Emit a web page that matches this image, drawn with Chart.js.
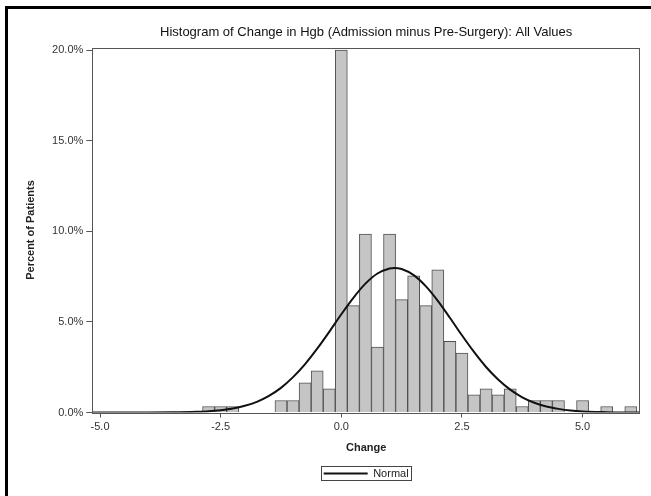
<!DOCTYPE html>
<html>
<head>
<meta charset="utf-8">
<script src="https://cdn.jsdelivr.net/npm/chart.js@4.4.0/dist/chart.umd.min.js"></script>
<style>
    html, body { margin: 0; padding: 0; background: #fff; }
    #wrap { width: 651px; height: 496px; }
</style>
</head>
<body>
<div id="wrap"><canvas id="histChart" width="651" height="496"></canvas></div>
<script>
// Histograma: centro de cada intervalo (ancho 0.25) y porcentaje de pacientes
const binCenters = [-2.75, -2.5, -2.25, -1.25, -1.0, -0.75, -0.5, -0.25,
    0.0, 0.25, 0.5, 0.75, 1.0, 1.25, 1.5, 1.75, 2.0, 2.25, 2.5, 2.75,
    3.0, 3.25, 3.5, 3.75, 4.0, 4.25, 4.5, 5.0, 5.5, 6.0];
const binPercents = [0.33, 0.33, 0.33, 0.66, 0.66, 1.64, 2.30, 1.31,
    20.0, 5.90, 9.84, 3.61, 9.84, 6.23, 7.54, 5.90, 7.87, 3.93, 3.28, 0.98,
    1.31, 0.98, 1.31, 0.33, 0.66, 0.66, 0.66, 0.66, 0.33, 0.33];

// Curva normal
const normalX = [-5.16, -4.5, -4.0, -3.5, -3.0, -2.75, -2.5, -2.25, -2.0, -1.75,
    -1.5, -1.25, -1.0, -0.75, -0.5, -0.25, 0.0, 0.25, 0.5, 0.75, 1.0, 1.1, 1.25,
    1.5, 1.75, 2.0, 2.25, 2.5, 2.75, 3.0, 3.25, 3.5, 3.75, 4.0, 4.25, 4.5, 4.75,
    5.0, 5.5, 6.0, 6.19];
const normalY = [0.00, 0.00, 0.00, 0.01, 0.04, 0.07, 0.13, 0.22, 0.37, 0.59,
    0.92, 1.36, 1.95, 2.67, 3.52, 4.45, 5.42, 6.33, 7.11, 7.67, 7.95, 7.98, 7.92,
    7.58, 6.97, 6.16, 5.23, 4.26, 3.34, 2.51, 1.82, 1.26, 0.84, 0.54, 0.33, 0.20, 0.11,
    0.06, 0.02, 0.00, 0.00];

// Marcas de los ejes
const xTicks = [-5.0, -2.5, 0.0, 2.5, 5.0];
const yTicks = [0, 5, 10, 15, 20];

const FONT = '"Liberation Sans", Arial, Helvetica, sans-serif';

// Marco del área de trazado
const framePlugin = {
    id: 'frame',
    afterDatasetsDraw(chart) {
        const a = chart.chartArea;
        const ctx = chart.ctx;
        ctx.save();
        ctx.strokeStyle = '#555';
        ctx.lineWidth = 1;
        ctx.strokeRect(Math.round(a.left) + 0.5, Math.round(a.top) + 0.5,
            Math.round(a.right - a.left) - 1, Math.round(a.bottom - a.top));
        ctx.restore();
    }
};

// Borde negro de la imagen y recuadro de la leyenda
const borderPlugin = {
    id: 'pageBorder',
    afterDraw(chart) {
        const ctx = chart.ctx;
        ctx.save();
        ctx.fillStyle = '#000';
        ctx.fillRect(5, 6, 3, chart.height - 6);
        ctx.fillRect(5, 6, chart.width - 5, 3);
        const hb = chart.legend && chart.legend.legendHitBoxes[0];
        if (hb) {
            ctx.strokeStyle = '#444';
            ctx.lineWidth = 1;
            ctx.strokeRect(Math.round(hb.left - 3) + 0.5, Math.round(hb.top - 2) + 0.5,
                Math.round(hb.width + 5), Math.round(hb.height + 3));
        }
        ctx.restore();
    }
};

const ctx = document.getElementById('histChart');
const chart = new Chart(ctx.getContext('2d'), {
    data: {
        datasets: [{
            type: 'line',
            label: 'Normal',
            data: normalX.map((x, i) => ({ x: x, y: normalY[i] })),
            borderColor: '#111',
            backgroundColor: '#111',
            borderWidth: 2,
            pointRadius: 0,
            cubicInterpolationMode: 'monotone',
            fill: false
        }, {
            type: 'bar',
            label: 'Percent',
            data: binCenters.map((x, i) => ({ x: x, y: binPercents[i] })),
            backgroundColor: '#c5c5c5',
            borderColor: '#505050',
            borderWidth: 1,
            barPercentage: 1.0,
            categoryPercentage: 1.0
        }]
    },
    options: {
        responsive: false,
        animation: false,
        devicePixelRatio: 1,
        layout: {
            padding: { left: 10, right: 11, top: 10, bottom: 7 }
        },
        plugins: {
            title: {
                display: true,
                text: 'Histogram of Change in Hgb (Admission minus Pre-Surgery): All Values',
                fullSize: false,
                color: '#111',
                font: { family: FONT, size: 13, weight: 'normal' },
                padding: { top: 14.2, bottom: 7.7 }
            },
            legend: {
                display: true,
                position: 'bottom',
                fullSize: false,
                labels: {
                    boxWidth: 44,
                    boxHeight: 2,
                    padding: 10,
                    color: '#222',
                    font: { family: FONT, size: 11 },
                    generateLabels(chart) {
                        const items = Chart.defaults.plugins.legend.labels.generateLabels(chart);
                        return items.filter(it => it.datasetIndex === 0).map(it => {
                            it.lineWidth = 0;
                            return it;
                        });
                    }
                }
            },
            tooltip: { enabled: false }
        },
        scales: {
            x: {
                type: 'linear',
                min: -5.16,
                max: 6.19,
                offset: false,
                afterBuildTicks(axis) {
                    axis.ticks = xTicks.map(v => ({ value: v }));
                },
                afterFit(scale) {
                    scale.height = 45.5;
                },
                ticks: {
                    includeBounds: false,
                    padding: 3,
                    color: '#333',
                    font: { family: FONT, size: 11 },
                    callback: v => v.toFixed(1)
                },
                grid: {
                    offset: false,
                    drawOnChartArea: false,
                    drawTicks: true,
                    tickLength: 5,
                    color: '#555'
                },
                border: { display: false },
                title: {
                    display: true,
                    text: 'Change',
                    color: '#222',
                    font: { family: FONT, size: 11, weight: 'bold' },
                    padding: { top: 0, bottom: 3 }
                }
            },
            y: {
                type: 'linear',
                min: 0,
                max: 20.14,
                afterBuildTicks(axis) {
                    axis.ticks = yTicks.map(v => ({ value: v }));
                },
                afterFit(scale) {
                    scale.width = 82.3;
                },
                ticks: {
                    includeBounds: false,
                    padding: 3,
                    color: '#333',
                    font: { family: FONT, size: 11 },
                    callback: v => v.toFixed(1) + '%'
                },
                grid: {
                    drawOnChartArea: false,
                    drawTicks: true,
                    tickLength: 6,
                    color: '#555'
                },
                border: { display: false },
                title: {
                    display: true,
                    text: 'Percent of Patients',
                    color: '#222',
                    font: { family: FONT, size: 11, weight: 'bold' },
                    padding: { top: 14, bottom: 0 }
                }
            }
        }
    },
    plugins: [framePlugin, borderPlugin]
});
</script>
</body>
</html>
